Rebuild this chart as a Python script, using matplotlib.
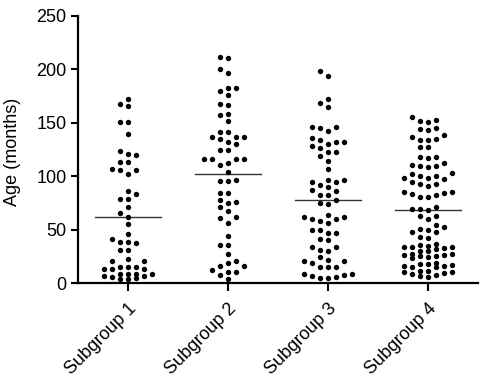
import numpy as np
import matplotlib.pyplot as plt

plt.rcParams['font.family'] = ['Liberation Sans', 'DejaVu Sans']

# Age values (months), one list per subgroup
categories = ['Subgroup 1', 'Subgroup 2', 'Subgroup 3', 'Subgroup 4']

subgroup1 = [172.5, 167.2, 165.6, 150.4, 150.4, 139.5, 123.3, 120.8, 119.6, 113.3,
             113.3, 107.1, 106.1, 105.6, 102.1, 86.2, 83.4, 78.5, 78.5, 71.0,
             65.4, 62.3, 55.4, 45.8, 41.7, 38.6, 38.3, 37.4, 31.1, 31.1,
             22.4, 20.5, 20.5, 15.6, 14.9, 14.9, 13.7, 13.7, 13.7, 8.4,
             8.4, 8.4, 8.4, 7.2, 7.2, 6.2, 5.0, 4.5, 3.7]

subgroup2 = [211.4, 210.5, 200.5, 196.2, 182.2, 182.2, 179.4, 175.6, 167.8, 166.3,
             158.5, 157.2, 151.3, 141.7, 141.7, 137.0, 137.0, 137.0, 134.5, 131.7,
             130.4, 124.5, 124.5, 115.8, 115.8, 115.8, 115.8, 112.4, 110.2, 104.3,
             96.5, 95.9, 95.9, 84.1, 84.1, 77.5, 76.3, 75.3, 71.0, 67.3,
             61.7, 60.7, 56.1, 44.5, 36.1, 36.1, 27.1, 21.1, 19.3, 16.4,
             16.4, 12.1, 10.9, 10.3, 7.5, 4.3]

subgroup3 = [198.3, 193.4, 172.5, 168.4, 164.4, 146.3, 146.3, 145.4, 142.6, 135.5,
             133.9, 132.3, 132.0, 130.1, 128.3, 126.1, 122.4, 122.4, 119.2, 114.3,
             106.5, 96.5, 96.2, 94.4, 94.4, 91.6, 89.7, 87.2, 86.5, 82.5,
             82.2, 77.8, 75.0, 74.4, 63.8, 61.7, 61.7, 60.4, 59.8, 58.5,
             56.1, 49.8, 49.8, 47.3, 46.7, 41.4, 40.5, 33.6, 33.6, 31.4,
             30.5, 24.3, 21.8, 21.1, 21.1, 18.7, 15.5, 14.9, 14.9, 8.7,
             8.4, 7.8, 6.8, 6.2, 4.7, 4.7]

subgroup4 = [155.6, 152.3, 151.6, 151.0, 145.4, 144.5, 143.5, 138.5, 137.0, 134.8,
             134.2, 133.6, 127.1, 127.1, 118.3, 118.3, 116.8, 112.1, 110.5, 109.9,
             109.6, 108.9, 103.3, 102.1, 100.2, 100.0, 98.7, 98.7, 97.4, 94.4,
             92.5, 92.5, 91.2, 85.6, 85.0, 84.1, 83.4, 82.5, 80.3, 80.3,
             71.3, 69.4, 69.4, 69.0, 63.2, 62.9, 60.1, 54.5, 52.3, 50.4,
             50.1, 48.2, 47.6, 43.5, 42.0, 36.7, 35.8, 35.1, 34.2, 34.2,
             33.9, 32.7, 32.0, 30.5, 30.0, 27.7, 27.1, 26.4, 26.4, 25.8,
             25.5, 24.6, 23.3, 18.7, 18.0, 18.0, 17.1, 16.4, 15.8, 15.5,
             14.9, 11.5, 11.5, 10.5, 10.3, 9.9, 9.0, 7.8, 7.1, 5.6]

groups = [subgroup1, subgroup2, subgroup3, subgroup4]


def column_offsets(values, min_gap, max_k=3):
    """Prism-like layout: put each point in the nearest free column,
    never wider than +-max_k columns."""
    values = np.asarray(values)
    order_cols = [0]
    for k in range(1, max_k + 1):
        order_cols += [-k, k]
    cols = {c: [] for c in order_cols}
    offs = np.zeros(len(values), dtype=int)
    for i in np.argsort(values):
        v = values[i]
        best, best_d = None, -1
        for c in order_cols:
            d = min([abs(v - y) for y in cols[c]], default=1e9)
            if d >= min_gap:
                best = c
                break
            if d > best_d:
                best, best_d = c, d
        cols[best].append(v)
        offs[i] = best
    return offs


fig = plt.figure(figsize=(4.82, 3.84), dpi=100)
ax = fig.add_axes([0.161, 0.262, 0.831, 0.697])

step = 0.08
for i, vals in enumerate(groups):
    offs = column_offsets(vals, 6.5)
    ax.scatter(i + offs * step, vals, s=15, color='black', linewidths=0,
               zorder=3, clip_on=False)
    m = np.mean(vals)
    ax.plot([i - 0.33, i + 0.33], [m, m], color='#333333', lw=1.0, zorder=2)

ax.set_xlim(-0.5, 3.5)
ax.set_ylim(0, 250)
ax.set_yticks([0, 50, 100, 150, 200, 250])
ax.set_xticks(range(len(categories)))
ax.set_xticklabels(categories, rotation=45, ha='right', va='top',
                   rotation_mode='anchor', fontsize=13)
ax.tick_params(axis='y', labelsize=13, width=1.5, length=5, pad=3)
ax.tick_params(axis='x', width=1.5, length=6, pad=6)

for s in ['top', 'right']:
    ax.spines[s].set_visible(False)
for s in ['left', 'bottom']:
    ax.spines[s].set_linewidth(1.6)

ax.set_ylabel('Age (months)', fontsize=13)
ax.yaxis.set_label_coords(-0.142, 0.49)

fig.savefig('out.png', dpi=100)
